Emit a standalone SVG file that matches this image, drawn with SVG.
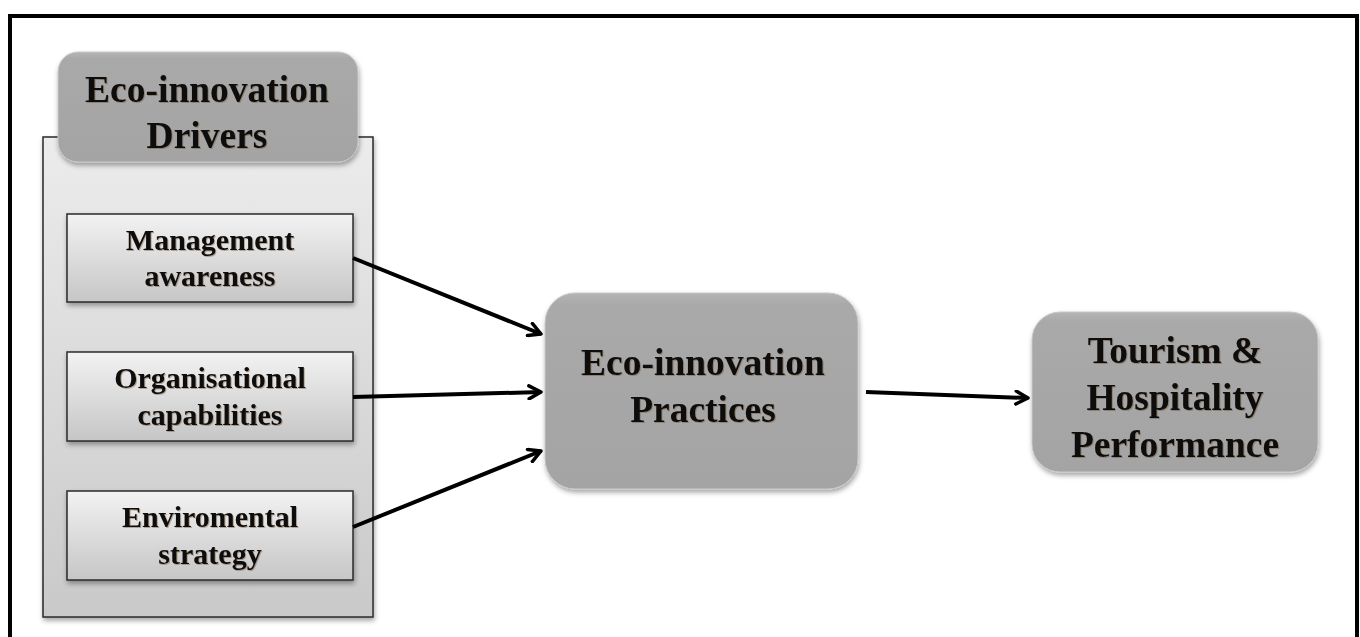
<svg xmlns="http://www.w3.org/2000/svg" width="1360" height="637" viewBox="0 0 1360 637">
<defs>
<linearGradient id="gCont" x1="0" y1="0" x2="0" y2="1">
<stop offset="0" stop-color="#ececec"/>
<stop offset="1" stop-color="#c9c9c9"/>
</linearGradient>
<linearGradient id="gSmall" x1="0" y1="0" x2="0" y2="1">
<stop offset="0" stop-color="#f2f2f2"/>
<stop offset="1" stop-color="#c6c6c6"/>
</linearGradient>
<linearGradient id="gRound" x1="0" y1="0" x2="0" y2="1">
<stop offset="0" stop-color="#b4b4b4"/>
<stop offset="0.06" stop-color="#a9a9a9"/>
<stop offset="1" stop-color="#a4a4a4"/>
</linearGradient>
<filter id="sh" x="-10%" y="-10%" width="125%" height="130%">
<feDropShadow dx="1" dy="3" stdDeviation="2.5" flood-color="#000" flood-opacity="0.35"/>
</filter>
<filter id="tsh" x="-5%" y="-20%" width="110%" height="140%">
<feDropShadow dx="1" dy="1" stdDeviation="0.5" flood-color="#6b4a20" flood-opacity="0.4"/>
</filter>
<marker id="arr" viewBox="0 0 16 16" refX="14" refY="8" markerWidth="16" markerHeight="16" markerUnits="userSpaceOnUse" orient="auto">
<path d="M2,1.5 L14,8 L2,14.5" fill="none" stroke="#000" stroke-width="3.5" stroke-linecap="round" stroke-linejoin="round"/>
</marker>
</defs>
<style>
.t{font-family:"Liberation Serif","Times New Roman",serif;font-weight:bold;fill:#0a0a0a;text-anchor:middle;filter:url(#tsh)}
.big{font-size:37.5px}
.sm{font-size:30px}
.small{fill:url(#gSmall);stroke:#2a2a2a;stroke-width:1.5;filter:url(#sh)}
.round{fill:url(#gRound);stroke:#c8c8c8;stroke-width:1;filter:url(#sh)}
.conn{stroke:#000;stroke-width:4;fill:none;marker-end:url(#arr)}
</style>
<rect x="0" y="0" width="1360" height="637" fill="#fff"/>
<rect id="frame" x="10" y="16" width="1347" height="640" fill="none" stroke="#000" stroke-width="4"/>

<g id="drivers-container">
<rect x="43" y="137" width="330" height="480" fill="url(#gCont)" stroke="#2a2a2a" stroke-width="1.5" filter="url(#sh)"/>
</g>
<g id="drivers-header">
<rect class="round" x="58" y="52" width="300" height="110" rx="20" ry="20"/>
<text class="t big" x="207" y="102">Eco-innovation</text>
<text class="t big" x="207" y="148">Drivers</text>
</g>
<g id="management">
<rect class="small" x="67" y="214" width="286" height="88"/>
<text class="t sm" x="210" y="250">Management</text>
<text class="t sm" x="210" y="286">awareness</text>
</g>
<g id="organisational">
<rect class="small" x="67" y="352" width="286" height="89"/>
<text class="t sm" x="210" y="388">Organisational</text>
<text class="t sm" x="210" y="425">capabilities</text>
</g>
<g id="environmental">
<rect class="small" x="67" y="491" width="286" height="89"/>
<text class="t sm" x="210" y="527">Enviromental</text>
<text class="t sm" x="210" y="564">strategy</text>
</g>
<g id="practices">
<rect class="round" x="545" y="293" width="313" height="196" rx="30" ry="30"/>
<text class="t big" x="703" y="375">Eco-innovation</text>
<text class="t big" x="703" y="422">Practices</text>
</g>
<g id="performance">
<rect class="round" x="1032" y="312" width="286" height="160" rx="28" ry="28"/>
<text class="t big" x="1175" y="363">Tourism &amp;</text>
<text class="t big" x="1175" y="410">Hospitality</text>
<text class="t big" x="1175" y="457">Performance</text>
</g>
<g id="connectors">
<line class="conn" x1="353" y1="258" x2="541" y2="334"/>
<line class="conn" x1="353" y1="397" x2="541" y2="392"/>
<line class="conn" x1="353" y1="527" x2="541" y2="451"/>
<line class="conn" x1="866" y1="392" x2="1028" y2="398"/>
</g>
</svg>
